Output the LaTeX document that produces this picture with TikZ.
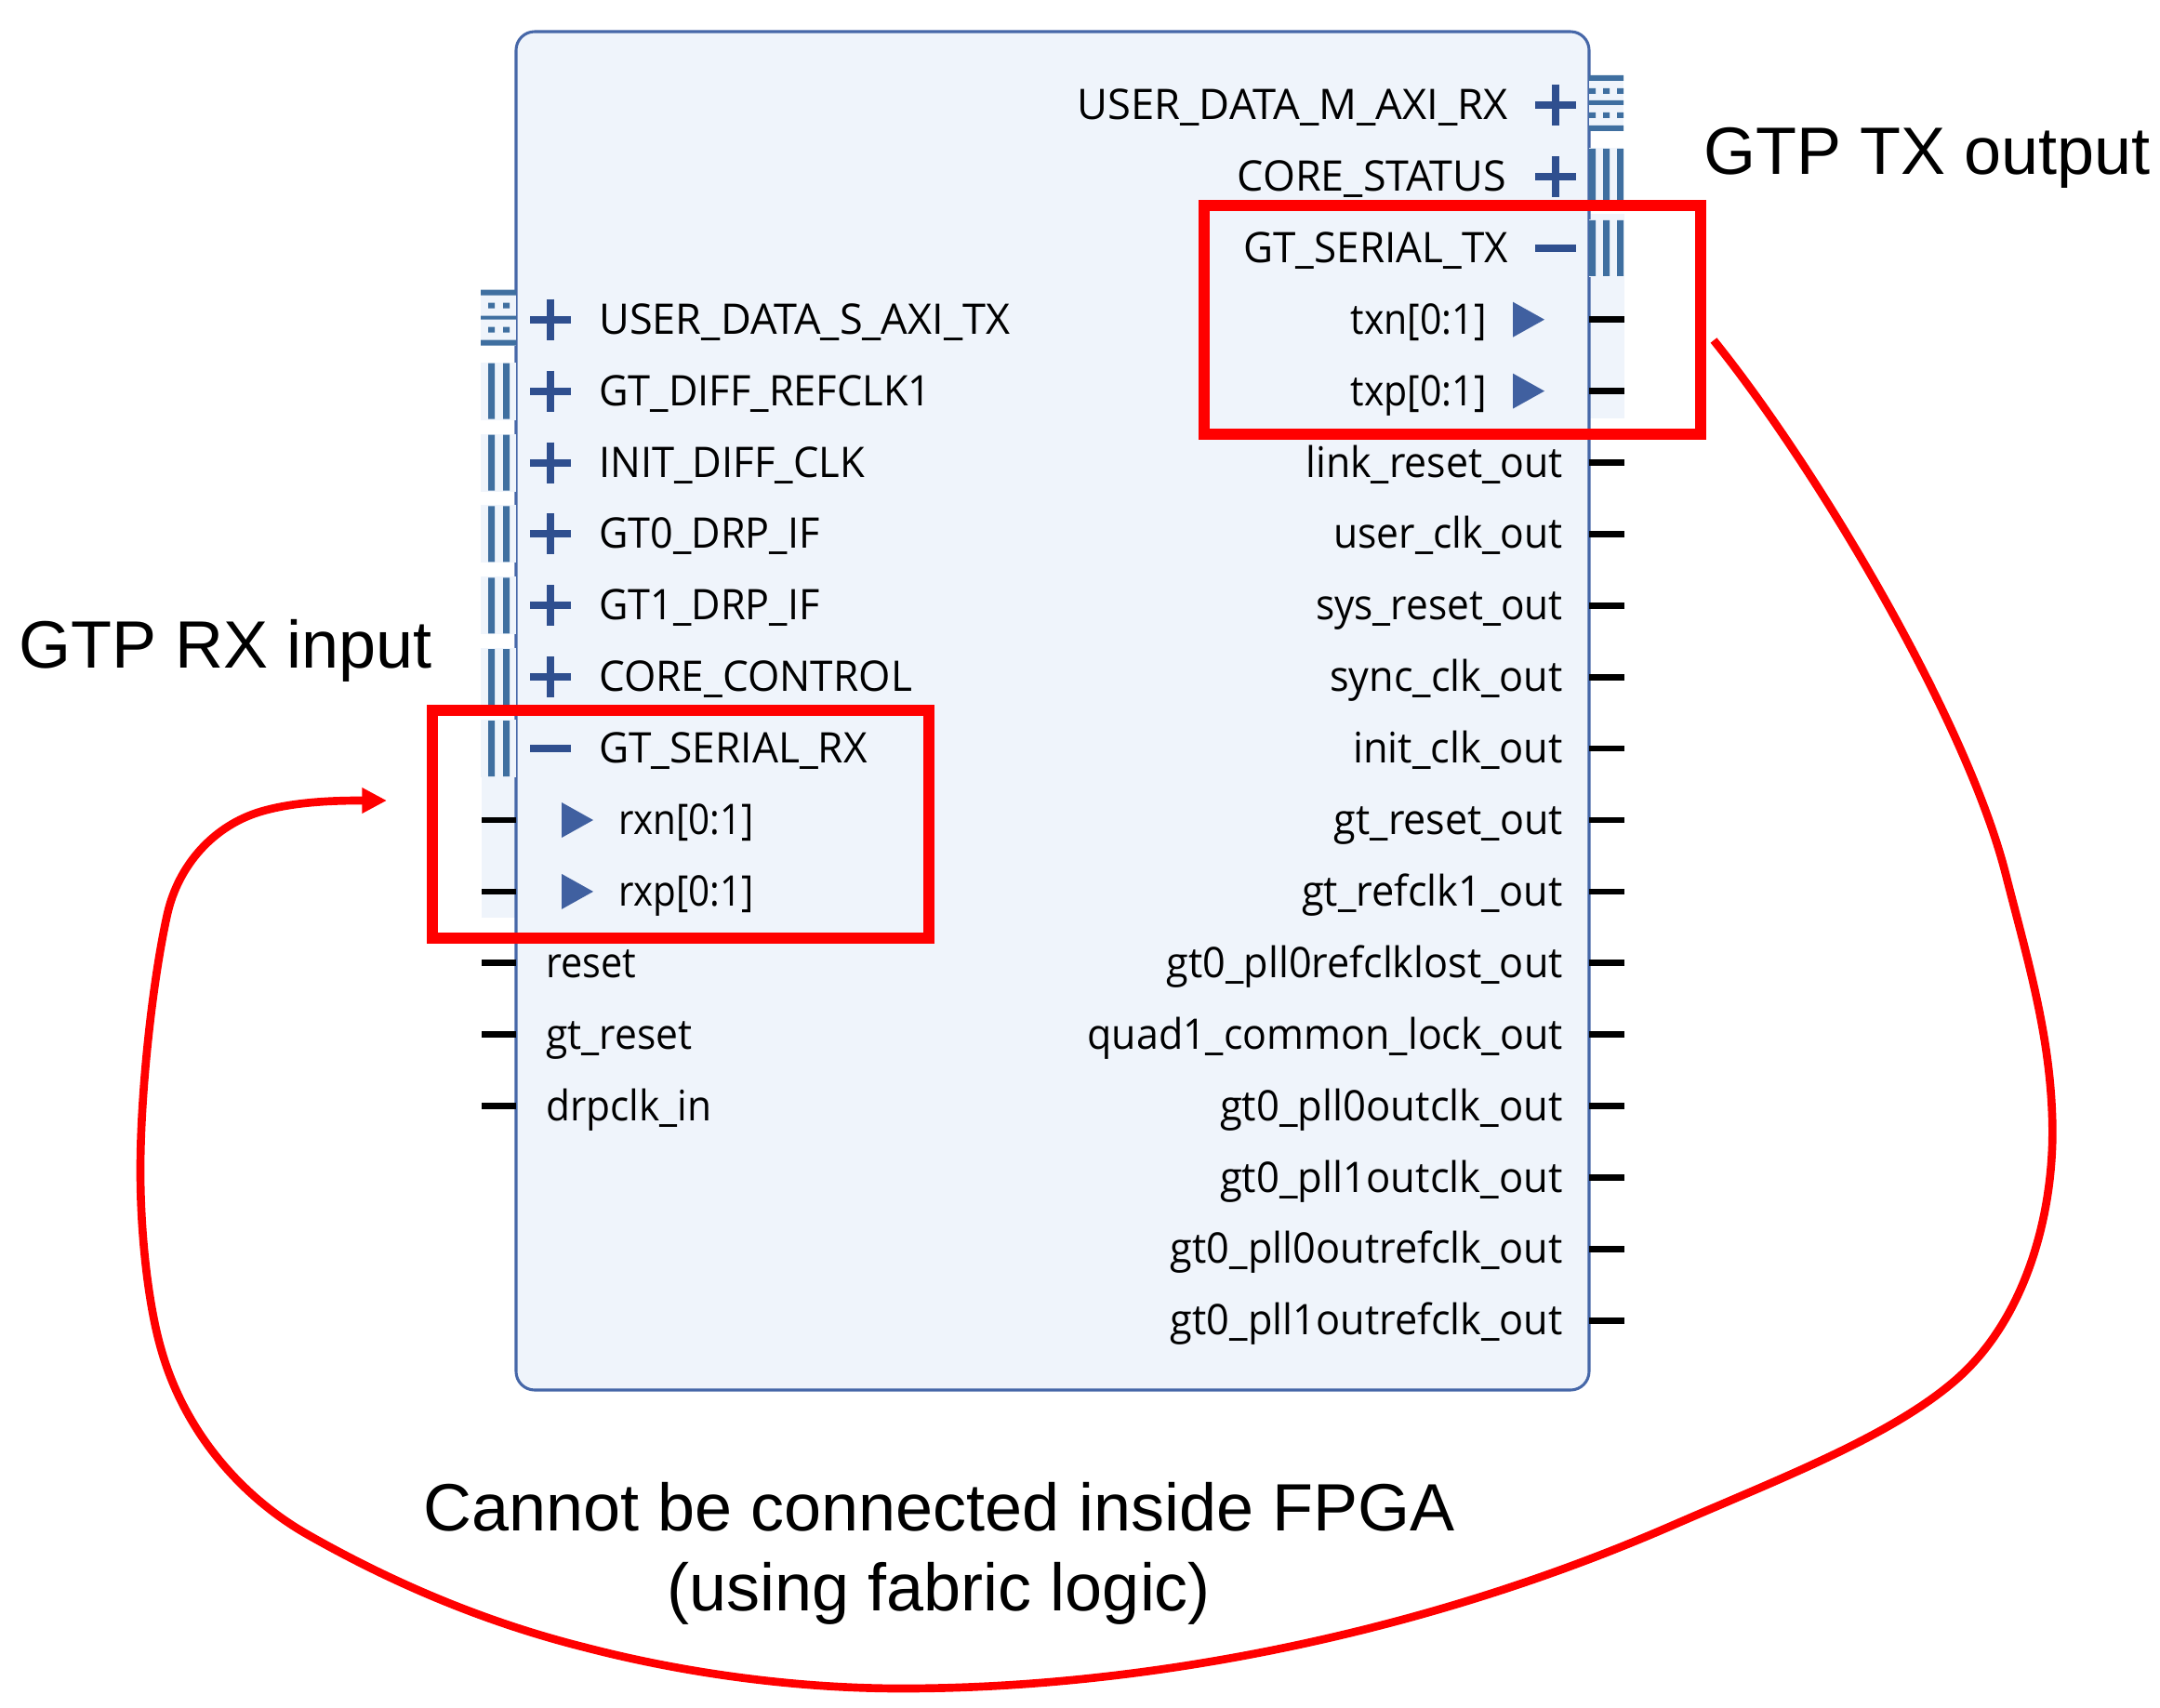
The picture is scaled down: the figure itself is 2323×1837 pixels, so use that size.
\documentclass[tikz,border=0pt]{standalone}
\usepackage{fontspec}
\setmainfont{Open Sans}
\newfontfamily\notefont{Liberation Sans}
\usetikzlibrary{arrows.meta}
\definecolor{panelfill}{HTML}{EFF4FB}
\definecolor{panelline}{HTML}{4667A8}
\definecolor{signblue}{HTML}{2F4F8F}
\definecolor{busblue}{HTML}{3F6FA0}
\definecolor{tipblue}{HTML}{4060A0}

\begin{document}
\begin{tikzpicture}[x=.75pt,y=-.75pt]
\tikzset{portlabel/.style={inner sep=0,font=\fontsize{34}{40}\selectfont}};
\tikzset{squeeze/.style={xscale=#1,transform shape}};
\tikzset{leftlabel/.style={portlabel,anchor=base west}};
\tikzset{rightlabel/.style={portlabel,anchor=base east}};
\tikzset{notelabel/.style={inner sep=0,anchor=base west,font=\notefont\fontsize{54}{64}\selectfont}};
\tikzset{signline/.style={line width=6pt,color=signblue}};
\tikzset{stubline/.style={line width=5pt,color=black}};
\tikzset{redbox/.style={line width=9pt,color=red}};
\tikzset{redloop/.style={line width=6.5pt,color=red,-{Triangle[length=20pt,width=19.5pt]}}};
\tikzset{plussign/.pic={\draw [signline] (-22,0) -- (22,0) (0,-22) -- (0,22);}};
\tikzset{minussign/.pic={\draw [signline] (-22,0) -- (22,0);}};
\tikzset{tipsign/.pic={\fill [tipblue] (-17,-19) -- (17,0) -- (-17,19) -- cycle;}};
\tikzset{busright/.pic={
  \fill [panelfill] (0,-31) rectangle (37,31);
  \fill [busblue] (0,-30) rectangle (7,30) (15,-30) rectangle (22,30) (30,-30) rectangle (37,30);}};
\tikzset{busleft/.pic={
  \fill [panelfill] (-38,-31) rectangle (0,31);
  \fill [busblue] (-30,-30) rectangle (-23,30) (-14,-30) rectangle (-7,30);}};
\tikzset{axiright/.pic={
  \fill [panelfill] (0,-32) rectangle (37,28);
  \fill [busblue] (0,-32) rectangle (37,-26) (0,-5) rectangle (37,0) (0,22) rectangle (37,28);
  \fill [busblue] (0,-18) rectangle (7,-12) (15,-18) rectangle (22,-12) (30,-18) rectangle (37,-12);
  \fill [busblue] (0,8) rectangle (7,14) (15,8) rectangle (22,14) (30,8) rectangle (37,14);}};
\tikzset{axileft/.pic={
  \fill [panelfill] (-38,-32) rectangle (0,28);
  \fill [busblue] (-38,-32) rectangle (0,-26) (-38,-4) rectangle (0,0) (-38,22) rectangle (0,28);
  \fill [busblue] (-30,-18) rectangle (-23,-12) (-14,-18) rectangle (-7,-12);
  \fill [busblue] (-30,8) rectangle (-23,14) (-14,8) rectangle (-7,14);}};

\pgfmathsetmacro{\rowtop}{113};
\pgfmathsetmacro{\rowstep}{76.9};
\pgfmathsetmacro{\rowbase}{128.5};
\pgfmathsetmacro{\leftedge}{555};
\pgfmathsetmacro{\rightedge}{1709};
\pgfmathsetmacro{\leftstub}{518};
\pgfmathsetmacro{\rightstub}{1747};

\useasboundingbox (0,0) rectangle (2323,1837);

% block and the light strips beside it
\fill [panelfill] (\rightedge,230) rectangle (\rightstub,450);
\fill [panelfill] (\leftstub,775) rectangle (\leftedge,987);
\draw [line width=2.3pt,color=panelline,fill=panelfill,rounded corners=15pt] (\leftedge,34) rectangle (\rightedge,1495);

% signs, left side
\pic at (592,{\rowtop+3*\rowstep}) {plussign};
\pic at (592,{\rowtop+4*\rowstep}) {plussign};
\pic at (592,{\rowtop+5*\rowstep}) {plussign};
\pic at (592,{\rowtop+6*\rowstep}) {plussign};
\pic at (592,{\rowtop+7*\rowstep}) {plussign};
\pic at (592,{\rowtop+8*\rowstep}) {plussign};
\pic at (592,{\rowtop+9*\rowstep}) {minussign};
\pic at (621,{\rowtop+10*\rowstep}) {tipsign};
\pic at (621,{\rowtop+11*\rowstep}) {tipsign};

% signs, right side
\pic at (1673,{\rowtop+0*\rowstep}) {plussign};
\pic at (1673,{\rowtop+1*\rowstep}) {plussign};
\pic at (1673,{\rowtop+2*\rowstep}) {minussign};
\pic at (1644,{\rowtop+3*\rowstep}) {tipsign};
\pic at (1644,{\rowtop+4*\rowstep}) {tipsign};

% bus icons
\pic at (\leftedge,{\rowtop+3*\rowstep}) {axileft};
\pic at (\leftedge,{\rowtop+4*\rowstep}) {busleft};
\pic at (\leftedge,{\rowtop+5*\rowstep}) {busleft};
\pic at (\leftedge,{\rowtop+6*\rowstep}) {busleft};
\pic at (\leftedge,{\rowtop+7*\rowstep}) {busleft};
\pic at (\leftedge,{\rowtop+8*\rowstep}) {busleft};
\pic at (\leftedge,{\rowtop+9*\rowstep}) {busleft};
\pic at (\rightedge,{\rowtop+0*\rowstep}) {axiright};
\pic at (\rightedge,{\rowtop+1*\rowstep}) {busright};
\pic at (\rightedge,{\rowtop+2*\rowstep}) {busright};

% stubs, left side
\draw [stubline] (\leftstub,{\rowtop+10*\rowstep}) -- (\leftedge,{\rowtop+10*\rowstep});
\draw [stubline] (\leftstub,{\rowtop+11*\rowstep}) -- (\leftedge,{\rowtop+11*\rowstep});
\draw [stubline] (\leftstub,{\rowtop+12*\rowstep}) -- (\leftedge,{\rowtop+12*\rowstep});
\draw [stubline] (\leftstub,{\rowtop+13*\rowstep}) -- (\leftedge,{\rowtop+13*\rowstep});
\draw [stubline] (\leftstub,{\rowtop+14*\rowstep}) -- (\leftedge,{\rowtop+14*\rowstep});

% stubs, right side
\draw [stubline] (\rightedge,{\rowtop+3*\rowstep}) -- (\rightstub,{\rowtop+3*\rowstep});
\draw [stubline] (\rightedge,{\rowtop+4*\rowstep}) -- (\rightstub,{\rowtop+4*\rowstep});
\draw [stubline] (\rightedge,{\rowtop+5*\rowstep}) -- (\rightstub,{\rowtop+5*\rowstep});
\draw [stubline] (\rightedge,{\rowtop+6*\rowstep}) -- (\rightstub,{\rowtop+6*\rowstep});
\draw [stubline] (\rightedge,{\rowtop+7*\rowstep}) -- (\rightstub,{\rowtop+7*\rowstep});
\draw [stubline] (\rightedge,{\rowtop+8*\rowstep}) -- (\rightstub,{\rowtop+8*\rowstep});
\draw [stubline] (\rightedge,{\rowtop+9*\rowstep}) -- (\rightstub,{\rowtop+9*\rowstep});
\draw [stubline] (\rightedge,{\rowtop+10*\rowstep}) -- (\rightstub,{\rowtop+10*\rowstep});
\draw [stubline] (\rightedge,{\rowtop+11*\rowstep}) -- (\rightstub,{\rowtop+11*\rowstep});
\draw [stubline] (\rightedge,{\rowtop+12*\rowstep}) -- (\rightstub,{\rowtop+12*\rowstep});
\draw [stubline] (\rightedge,{\rowtop+13*\rowstep}) -- (\rightstub,{\rowtop+13*\rowstep});
\draw [stubline] (\rightedge,{\rowtop+14*\rowstep}) -- (\rightstub,{\rowtop+14*\rowstep});
\draw [stubline] (\rightedge,{\rowtop+15*\rowstep}) -- (\rightstub,{\rowtop+15*\rowstep});
\draw [stubline] (\rightedge,{\rowtop+16*\rowstep}) -- (\rightstub,{\rowtop+16*\rowstep});
\draw [stubline] (\rightedge,{\rowtop+17*\rowstep}) -- (\rightstub,{\rowtop+17*\rowstep});

% labels, left side
\node [leftlabel,squeeze=.995] (usr_s) at (644,{\rowbase+3*\rowstep}) {USER\_DATA\_S\_AXI\_TX};
\node [leftlabel,squeeze=.956] (refclk) at (644,{\rowbase+4*\rowstep}) {GT\_DIFF\_REFCLK1};
\node [leftlabel,squeeze=.96] (initclk) at (644,{\rowbase+5*\rowstep}) {INIT\_DIFF\_CLK};
\node [leftlabel,squeeze=.952] (drp_0) at (644,{\rowbase+6*\rowstep}) {GT0\_DRP\_IF};
\node [leftlabel,squeeze=.952] (drp_1) at (644,{\rowbase+7*\rowstep}) {GT1\_DRP\_IF};
\node [leftlabel,squeeze=.974] (control) at (644,{\rowbase+8*\rowstep}) {CORE\_CONTROL};
\node [leftlabel,squeeze=.975] (serial_rx) at (644,{\rowbase+9*\rowstep}) {GT\_SERIAL\_RX};
\node [leftlabel,squeeze=.89] (rxn) at (665,{\rowbase+10*\rowstep}) {rxn[0:1]};
\node [leftlabel,squeeze=.89] (rxp) at (665,{\rowbase+11*\rowstep}) {rxp[0:1]};
\node [leftlabel,squeeze=.915] (reset) at (587,{\rowbase+12*\rowstep}) {reset};
\node [leftlabel,squeeze=.94] (gt_reset) at (587,{\rowbase+13*\rowstep}) {gt\_reset};
\node [leftlabel,squeeze=.935] (drpclk) at (587,{\rowbase+14*\rowstep}) {drpclk\_in};

% labels, right side
\node [rightlabel] (usr_m) at (1622,{\rowbase+0*\rowstep}) {USER\_DATA\_M\_AXI\_RX};
\node [rightlabel,squeeze=.99] (status) at (1620,{\rowbase+1*\rowstep}) {CORE\_STATUS};
\node [rightlabel,squeeze=.97] (serial_tx) at (1622,{\rowbase+2*\rowstep}) {GT\_SERIAL\_TX};
\node [rightlabel,squeeze=.905] (txn) at (1599,{\rowbase+3*\rowstep}) {txn[0:1]};
\node [rightlabel,squeeze=.905] (txp) at (1599,{\rowbase+4*\rowstep}) {txp[0:1]};
\node [rightlabel,squeeze=.945] (link_reset) at (1681,{\rowbase+5*\rowstep}) {link\_reset\_out};
\node [rightlabel,squeeze=.94] (user_clk) at (1681,{\rowbase+6*\rowstep}) {user\_clk\_out};
\node [rightlabel,squeeze=.935] (sys_reset) at (1681,{\rowbase+7*\rowstep}) {sys\_reset\_out};
\node [rightlabel,squeeze=.955] (sync_clk) at (1681,{\rowbase+8*\rowstep}) {sync\_clk\_out};
\node [rightlabel,squeeze=.958] (init_clk) at (1681,{\rowbase+9*\rowstep}) {init\_clk\_out};
\node [rightlabel,squeeze=.95] (reset_out) at (1681,{\rowbase+10*\rowstep}) {gt\_reset\_out};
\node [rightlabel,squeeze=.955] (refclk_out) at (1681,{\rowbase+11*\rowstep}) {gt\_refclk1\_out};
\node [rightlabel,squeeze=.953] (lost) at (1681,{\rowbase+12*\rowstep}) {gt0\_pll0refclklost\_out};
\node [rightlabel,squeeze=.948] (lock) at (1681,{\rowbase+13*\rowstep}) {quad1\_common\_lock\_out};
\node [rightlabel,squeeze=.962] (outclk_0) at (1681,{\rowbase+14*\rowstep}) {gt0\_pll0outclk\_out};
\node [rightlabel,squeeze=.962] (outclk_1) at (1681,{\rowbase+15*\rowstep}) {gt0\_pll1outclk\_out};
\node [rightlabel,squeeze=.955] (outref_0) at (1681,{\rowbase+16*\rowstep}) {gt0\_pll0outrefclk\_out};
\node [rightlabel,squeeze=.955] (outref_1) at (1681,{\rowbase+17*\rowstep}) {gt0\_pll1outrefclk\_out};

% red marks
\draw [redbox] (1295,221) rectangle (1829,467);
\draw [redbox] (465,764) rectangle (999,1009);

\coordinate (loop_start) at (1843,366);
\coordinate (loop_end) at (416,861);
\draw [redloop] (loop_start) .. controls (1955,505) and (2115,775) .. (2157,940)
  .. controls (2180,1030) and (2204,1110) .. (2207,1200)
  .. controls (2211,1300) and (2180,1420) .. (2100,1487)
  .. controls (2030,1546) and (1915,1590) .. (1800,1640)
  .. controls (1520,1762) and (1220,1816) .. (970,1816)
  .. controls (850,1816) and (730,1798) .. (630,1772)
  .. controls (530,1747) and (430,1707) .. (330,1650)
  .. controls (260,1610) and (198,1540) .. (173,1450)
  .. controls (160,1405) and (151,1330) .. (151,1259)
  .. controls (151,1170) and (165,1050) .. (180,983)
  .. controls (192,930) and (230,888) .. (280,873)
  .. controls (320,861) and (370,861) .. (loop_end);

% notes
\node [notelabel] (tx_note) at (1832,188) {GTP TX output};
\node [notelabel] (rx_note) at (20,718) {GTP RX input};
\node [notelabel,anchor=base] (fpga_note) at (1010,1646) {Cannot be connected inside FPGA};
\node [notelabel,anchor=base] (fabric_note) at (1010,1732) {(using fabric logic)};
\end{tikzpicture}
\end{document}
